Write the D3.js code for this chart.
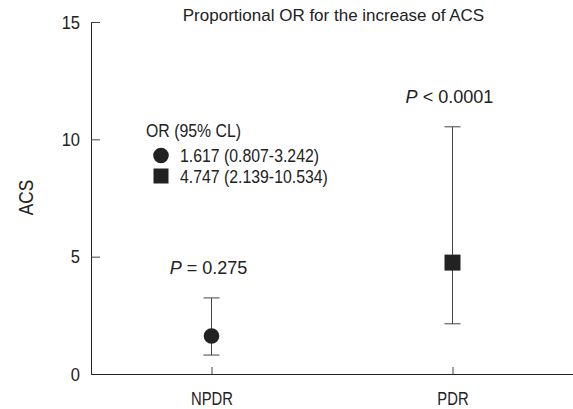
<!DOCTYPE html>
<html>
<head>
<meta charset="utf-8">
<script src="https://cdn.jsdelivr.net/npm/d3@7"></script>
<style>
  body { margin: 0; background: #fff; }
  svg text { font-family: "Liberation Sans", Arial, Helvetica, sans-serif; fill: #222; }
</style>
</head>
<body>
<div id="chart"></div>
<script>
// Data
const groups = ["NPDR", "PDR"];
const orValues = [1.617, 4.747];
const ciLow = [0.807, 2.139];
const ciHigh = [3.242, 10.534];
const pLabels = [["P", " = 0.275"], ["P", " < 0.0001"]];
const legendLabels = ["1.617 (0.807-3.242)", "4.747 (2.139-10.534)"];
const yTicks = [0, 5, 10, 15];

const width = 573, height = 409;
const margin = { left: 91, right: 0, top: 22, bottom: 35 };

const svg = d3.select("#chart").append("svg")
    .attr("width", width)
    .attr("height", height);

const x = d3.scalePoint()
    .domain(groups)
    .range([margin.left, width - margin.right])
    .padding(0.5);

const y = d3.scaleLinear()
    .domain([0, 15])
    .range([height - margin.bottom, margin.top]);

// the original uses a condensed face, so squeeze text horizontally
function narrowText(sel, tx, ty, sx) {
    return sel.attr("transform", `translate(${tx},${ty}) scale(${sx},1)`);
}

// Y axis
const yAxis = svg.append("g")
    .attr("transform", `translate(${margin.left},0)`)
    .call(d3.axisLeft(y).tickValues(yTicks).tickSizeInner(-9).tickSizeOuter(0).tickPadding(11));
yAxis.selectAll("text")
    .style("font-size", "19px")
    .attr("x", -11 / 0.87)
    .attr("transform", "scale(0.87,1)");
yAxis.selectAll("line").attr("stroke", "#444");
yAxis.select(".domain").attr("stroke", "#222");

// X axis
const xAxis = svg.append("g")
    .attr("transform", `translate(0,${y(0)})`)
    .call(d3.axisBottom(x).tickSizeInner(-7).tickSizeOuter(0).tickPadding(17.5));
xAxis.selectAll("text")
    .style("font-size", "19px")
    .attr("transform", "scale(0.78,1)");
xAxis.selectAll("line").attr("stroke", "#444");
xAxis.select(".domain").attr("stroke", "#222");

// Y label
svg.append("text")
    .attr("transform", `translate(33,197.5) rotate(-90) scale(0.86,1)`)
    .attr("text-anchor", "middle")
    .style("font-size", "20px")
    .text("ACS");

// Title
svg.append("text")
    .attr("x", 333.5)
    .attr("y", 21)
    .attr("text-anchor", "middle")
    .style("font-size", "17px")
    .text("Proportional OR for the increase of ACS");

// Error bars
const capW = 8;
const bars = svg.append("g").selectAll("g")
    .data(groups)
    .enter().append("g");

bars.append("line")
    .attr("x1", d => x(d)).attr("x2", d => x(d))
    .attr("y1", (d, i) => y(ciLow[i])).attr("y2", (d, i) => y(ciHigh[i]))
    .attr("stroke", "#444");
bars.append("line")
    .attr("x1", d => x(d) - capW).attr("x2", d => x(d) + capW)
    .attr("y1", (d, i) => y(ciLow[i])).attr("y2", (d, i) => y(ciLow[i]))
    .attr("stroke", "#444");
bars.append("line")
    .attr("x1", d => x(d) - capW).attr("x2", d => x(d) + capW)
    .attr("y1", (d, i) => y(ciHigh[i])).attr("y2", (d, i) => y(ciHigh[i]))
    .attr("stroke", "#444");

// Markers
const symbolCircle = d3.symbol().type(d3.symbolCircle).size(Math.PI * 7.8 * 7.8);
const symbolSquare = d3.symbol().type(d3.symbolSquare).size(16 * 16);
bars.append("path")
    .attr("transform", (d, i) => `translate(${x(d)},${y(orValues[i])})`)
    .attr("d", (d, i) => i === 0 ? symbolCircle() : symbolSquare())
    .attr("fill", "#222");

// P labels
const pText = bars.append("text")
    .each(function(d, i) {
        narrowText(d3.select(this), x(d) - 3, y(ciHigh[i]) - 24, 0.95);
    })
    .attr("text-anchor", "middle")
    .style("font-size", "19px");
pText.append("tspan")
    .style("font-style", "italic")
    .text((d, i) => pLabels[i][0]);
pText.append("tspan")
    .text((d, i) => pLabels[i][1]);

// Legend
const legend = svg.append("g");
narrowText(legend.append("text"), 146, 137, 0.88)
    .style("font-size", "18px")
    .text("OR (95% CL)");
const legendRows = legend.selectAll("g.row")
    .data(legendLabels)
    .enter().append("g")
    .attr("class", "row")
    .attr("transform", (d, i) => `translate(161,${155.5 + i * 20.5})`);
legendRows.append("path")
    .attr("d", (d, i) => i === 0 ? symbolCircle() : d3.symbol().type(d3.symbolSquare).size(15 * 15)())
    .attr("fill", "#222");
legendRows.append("text")
    .each(function() { narrowText(d3.select(this), 19, 6.5, 0.88); })
    .style("font-size", "18px")
    .text(d => d);
</script>
</body>
</html>
